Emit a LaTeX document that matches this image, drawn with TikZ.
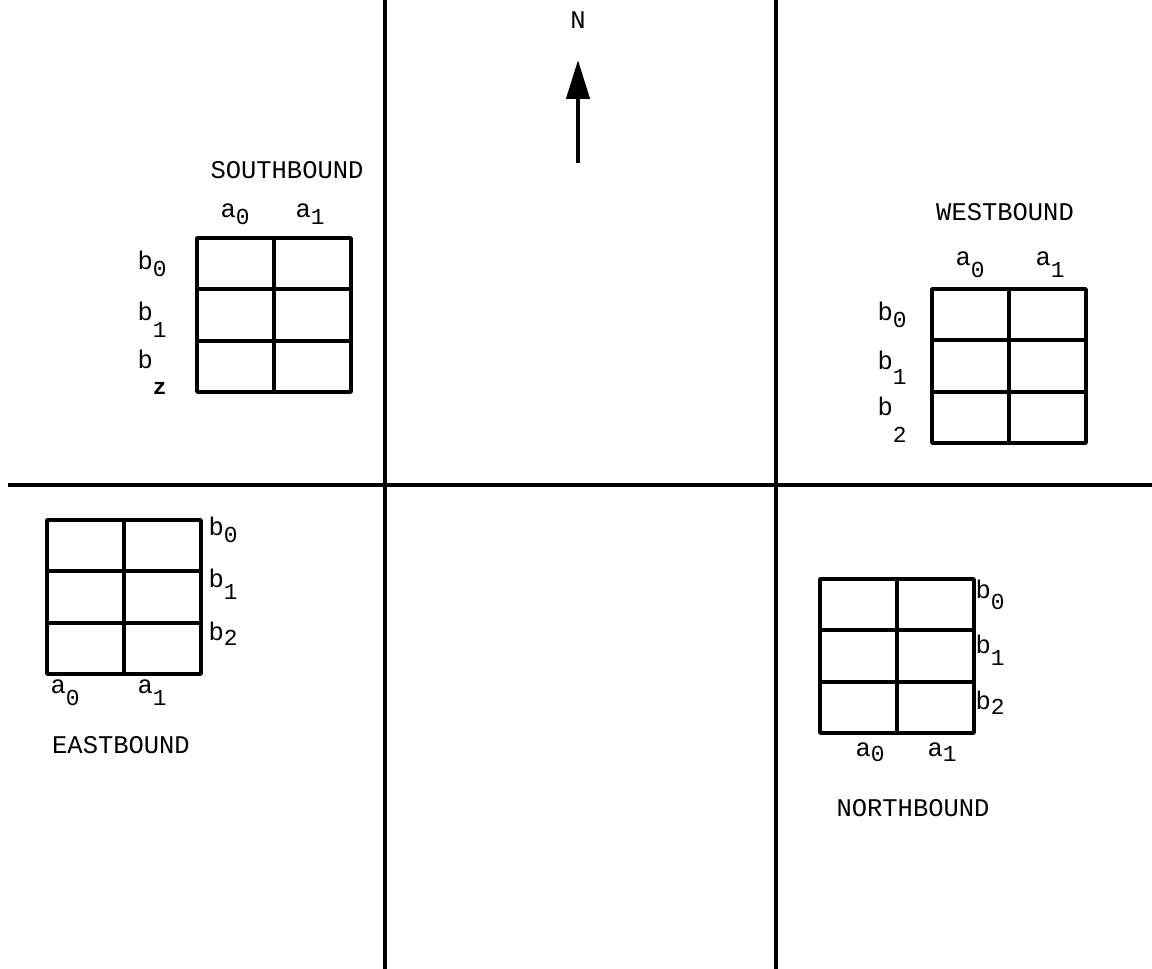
\documentclass[tikz,border=0pt]{standalone}
\usepackage{fontspec}
\setmonofont{Liberation Mono}
\usetikzlibrary{arrows.meta, positioning}
\newcommand{\idx}[3][0.55ex]{#2\raisebox{-#1}{\fontsize{13}{13}\selectfont #3}}

\begin{document}
\begin{tikzpicture}[
  x=0.02cm, y=-0.02cm,
  road/.style={line width=2.4pt, color=black},
  cellgrid/.style={line width=2.1pt, line join=round},
  lbl/.style={font=\fontsize{14.5}{16}\selectfont\ttfamily, inner sep=0pt},
  cells/.pic={
    \draw[cellgrid] (0,0) rectangle (154,154);
    \draw[cellgrid] (77,0) -- (77,154);
    \draw[cellgrid] (0,51.3) -- (154,51.3);
    \draw[cellgrid] (0,102.7) -- (154,102.7);
  }
]
  \useasboundingbox (0,0) rectangle (1152,969);

  % Strassen
  \coordinate (wtop) at (385,0);   \coordinate (wbot) at (385,969);
  \coordinate (etop) at (776,0);   \coordinate (ebot) at (776,969);
  \coordinate (hl) at (8,485);     \coordinate (hr) at (1152,485);
  \draw[road] (wtop) -- (wbot);
  \draw[road] (etop) -- (ebot);
  \draw[road] (hl) -- (hr);

  % Nordpfeil
  \node[lbl] (nord) at (578,20) {N};
  \coordinate (tail) at (578,163);
  \coordinate (tip) at (578,60);
  \draw[line width=2.6pt, -{Triangle[length=0.78cm, width=0.46cm]}] (tail) -- (tip);

  % Southbound
  \pic at (197,238) {cells};
  \node[lbl] (sb) at (287,170) {SOUTHBOUND};
  \node[lbl] (sba0) at (235,214) {\idx{a}{0}};
  \node[lbl] (sba1) at (310,214) {\idx{a}{1}};
  \node[lbl] (sbb0) at (152,264) {\idx{b}{0}};
  \node[lbl] (sbb1) at (152,320) {\idx[1.3ex]{b}{1}};
  \node[lbl] (sbb2) at (152,372) {\idx[1.9ex]{b}{\textbf{z}}};

  % Westbound
  \pic at (932,289) {cells};
  \node[lbl] (wb) at (1005,212) {WESTBOUND};
  \node[lbl] (wba0) at (970,265) {\idx[0.9ex]{a}{0}};
  \node[lbl] (wba1) at (1050,265) {\idx[0.9ex]{a}{1}};
  \node[lbl] (wbb0) at (892,315) {\idx{b}{0}};
  \node[lbl] (wbb1) at (892,368) {\idx[1.1ex]{b}{1}};
  \node[lbl] (wbb2) at (892,420) {\idx[2.0ex]{b}{2}};

  % Eastbound
  \pic at (47,520) {cells};
  \node[lbl] (ebb0) at (223,530) {\idx{b}{0}};
  \node[lbl] (ebb1) at (223,584) {\idx[0.9ex]{b}{1}};
  \node[lbl] (ebb2) at (223,634) {\idx[0.4ex]{b}{2}};
  \node[lbl] (eba0) at (65,693) {\idx[0.9ex]{a}{0}};
  \node[lbl] (eba1) at (152,693) {\idx[0.9ex]{a}{1}};
  \node[lbl] (eb) at (121,745) {EASTBOUND};

  % Northbound
  \pic at (820,579) {cells};
  \node[lbl] (nbb0) at (990,595) {\idx[0.8ex]{b}{0}};
  \node[lbl] (nbb1) at (990,650) {\idx[0.9ex]{b}{1}};
  \node[lbl] (nbb2) at (990,703) {\idx[0.4ex]{b}{2}};
  \node[lbl] (nba0) at (870,752) {\idx[0.4ex]{a}{0}};
  \node[lbl] (nba1) at (942,752) {\idx[0.4ex]{a}{1}};
  \node[lbl] (nb) at (913,808) {NORTHBOUND};
\end{tikzpicture}
\end{document}
